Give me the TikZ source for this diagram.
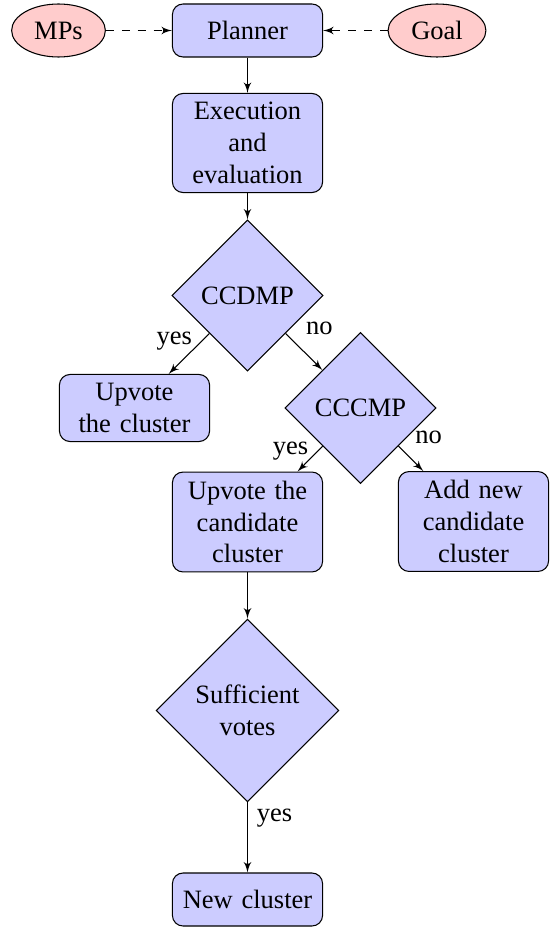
\documentclass[tikz,border=0pt]{standalone}
\usepackage{fontspec}
\setmainfont{Liberation Serif}
\usetikzlibrary{shapes.geometric,arrows}
\begin{document}
\begin{tikzpicture}[x=0.3774pt,y=-0.3774pt,
  block/.style={rectangle, draw, fill=blue!20, text width=5em, align=center, rounded corners, minimum height=2em},
  decision/.style={diamond, draw, fill=blue!20, text width=4.5em, align=center, inner sep=0pt, aspect=1},
  cloudnode/.style={ellipse, draw, fill=red!20, minimum height=2em},
  line/.style={draw, -latex'}
]
\useasboundingbox (0,0) rectangle (550,929);
\node[cloudnode] (mps) at (58.5,30.5) {MPs};
\node[block] (planner) at (247.5,30.5) {Planner};
\node[cloudnode] (goal) at (437,30.5) {Goal};
\node[block] (exec) at (247.5,143) {Execution\\ and\\ evaluation};
\node[decision, minimum width=57pt, minimum height=57pt] (ccdmp) at (247.5,295.5) {CCDMP};
\node[block] (upc) at (134.5,408) {Upvote\\ the cluster};
\node[decision, minimum width=57pt, minimum height=57pt] (cccmp) at (360.5,408) {CCCMP};
\node[block] (upcand) at (247.5,522) {Upvote the\\ candidate\\ cluster};
\node[block] (addnew) at (473.5,521.5) {Add new\\ candidate\\ cluster};
\node[decision, minimum width=69pt, minimum height=69pt] (suff) at (247.5,710.5) {Sufficient\\ votes};
\node[block] (newc) at (247.5,899.5) {New cluster};

\path[line, dashed] (mps) -- (planner);
\path[line, dashed] (goal) -- (planner);
\path[line] (planner) -- (exec);
\path[line] (exec) -- (ccdmp);
\path[line] (ccdmp) -- node[pos=0.2, anchor=east] {yes} (upc);
\path[line] (ccdmp) -- node[pos=0.3, anchor=south west] {no} (cccmp);
\path[line] (cccmp) -- node[pos=0.2, anchor=east] {yes} (upcand);
\path[line] (cccmp) -- node[pos=0.3, anchor=south west] {no} (addnew);
\path[line] (upcand) -- (suff);
\path[line] (suff) -- node[pos=0.22, anchor=west] {yes} (newc);
\end{tikzpicture}
\end{document}
